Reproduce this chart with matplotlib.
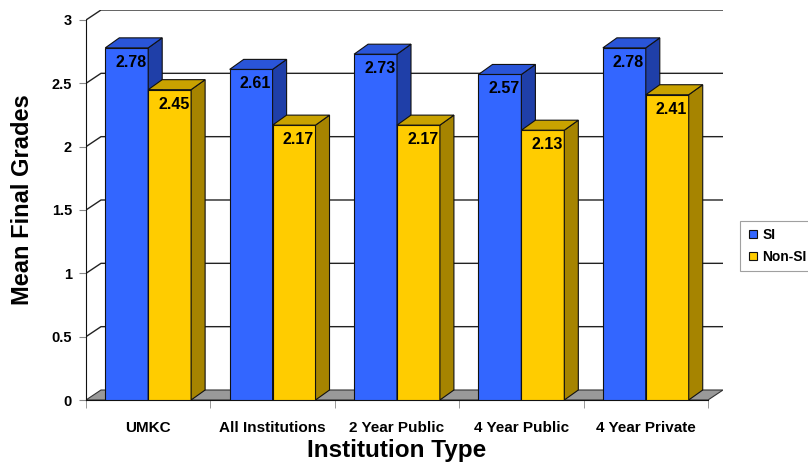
import matplotlib
matplotlib.use("Agg")
import matplotlib.pyplot as plt
from matplotlib.patches import Polygon
from matplotlib.lines import Line2D

plt.rcParams['font.family'] = ['Liberation Sans', 'DejaVu Sans']

categories = ['UMKC', 'All Institutions', '2 Year Public', '4 Year Public', '4 Year Private']
si = [2.78, 2.61, 2.73, 2.57, 2.78]
non_si = [2.45, 2.17, 2.17, 2.13, 2.41]
series_names = ['SI', 'Non-SI']
y_ticks = [0, 0.5, 1, 1.5, 2, 2.5, 3]

W, H = 808, 463
fig = plt.figure(figsize=(W / 100, H / 100), dpi=100)

# axes spans front-left-bottom (86,400) to back-right-top (723,10)
px_per_cat = 124.4
px_per_unit = 126.67
ax = fig.add_axes([86 / W, (H - 400) / H, (723 - 86) / W, 390 / H])
ax.set_xlim(-0.5, -0.5 + (723 - 86) / px_per_cat)
ax.set_ylim(0, 390 / px_per_unit)

dx = 15 / px_per_cat
dy = 10 / px_per_unit
bdx = 14 / px_per_cat
bdy = 10 / px_per_unit
n = len(categories)
x_front_right = n - 0.5
x_back_right = ax.get_xlim()[1]

# gridlines on left wall + back wall
for v in y_ticks[1:]:
    ax.plot([-0.5, -0.5 + dx, x_back_right], [v, v + dy, v + dy],
            color='#222222', lw=1.0, zorder=1, solid_capstyle='butt')

# floor
floor = Polygon([(-0.5, 0), (x_front_right, 0), (x_front_right + dx, dy), (-0.5 + dx, dy)],
                closed=True, facecolor='#999999', edgecolor='#333333', lw=0.8, zorder=2)
ax.add_patch(floor)

bw = 0.345
colors = {
    'SI': ('#3366FF', '#1F3FA8', '#2A55D8'),
    'Non-SI': ('#FFCC00', '#A68400', '#C9A200'),
}
z = 3.0
for i in range(n):
    for s, vals, off in (('SI', si, -bw), ('Non-SI', non_si, 0.0)):
        front, side, top = colors[s]
        v = vals[i]
        x0 = i + off
        bars = ax.bar([x0], [v], width=bw, align='edge', color=front,
                      edgecolor='#111111', linewidth=0.8, zorder=z)
        r = bars[0]
        xl, xr, h = r.get_x(), r.get_x() + r.get_width(), r.get_height()
        ax.add_patch(Polygon([(xr, 0), (xr + bdx, bdy), (xr + bdx, h + bdy), (xr, h)],
                             closed=True, facecolor=side, edgecolor='#111111', lw=0.8, zorder=z + 0.01))
        ax.add_patch(Polygon([(xl, h), (xr, h), (xr + bdx, h + bdy), (xl + bdx, h + bdy)],
                             closed=True, facecolor=top, edgecolor='#111111', lw=0.8, zorder=z + 0.02))
        ax.annotate(f'{v:.2f}', xy=((xl + xr) / 2, h), xytext=(3, -5),
                    textcoords='offset points', ha='center', va='top',
                    fontsize=11.5, fontweight='bold', color='black', zorder=z + 0.03)
        z += 0.1

# spines and ticks
for sp in ['top', 'right']:
    ax.spines[sp].set_visible(False)
ax.spines['left'].set_bounds(0, 3)
ax.spines['left'].set_color('#111111')
ax.spines['bottom'].set_bounds(-0.5, x_front_right)
ax.spines['bottom'].set_color('#111111')
ax.spines['left'].set_zorder(2.5)
ax.spines['bottom'].set_zorder(2.5)

ax.set_yticks(y_ticks)
ax.set_yticklabels([f'{t:g}' for t in y_ticks], fontsize=10.5, fontweight='bold')
ax.tick_params(axis='y', length=5, color='#888888', pad=5)

ax.set_xticks(range(n))
ax.set_xticklabels(categories, fontsize=11, fontweight='bold')
ax.tick_params(axis='x', which='major', length=0, pad=15)
ax.set_xticks([k - 0.5 for k in range(n + 1)], minor=True)
ax.tick_params(axis='x', which='minor', length=6, color='#888888')

fig.text(397 / W, 1 - 450 / H, 'Institution Type', ha='center', va='center',
         fontsize=17.5, fontweight='bold')
fig.text(23 / W, 1 - 200 / H, 'Mean Final Grades', ha='center', va='center',
         rotation=90, fontsize=17, fontweight='bold')

handles = [Line2D([], [], marker='s', linestyle='none', markersize=6,
                  markerfacecolor=colors[s][0], markeredgecolor='#111111', markeredgewidth=0.8)
           for s in series_names]
leg = fig.legend(handles, series_names, loc='upper left',
                 bbox_to_anchor=(740 / W, 1 - 221 / H), frameon=True, fancybox=False,
                 prop={'weight': 'bold', 'size': 10}, handlelength=0.8, handletextpad=0.3,
                 borderpad=0.5, labelspacing=0.6, borderaxespad=0)
leg.get_frame().set_edgecolor('#888888')
leg.get_frame().set_linewidth(0.8)

fig.savefig('out.png', dpi=100)
